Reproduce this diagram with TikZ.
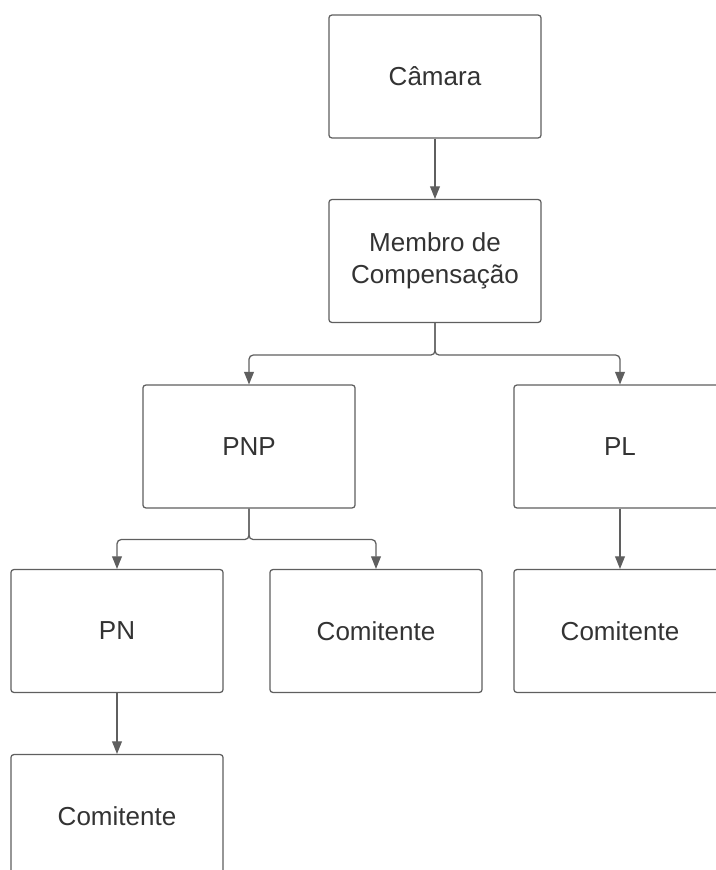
\documentclass[tikz,border=0pt]{standalone}
\usepackage{fontspec}
\setmainfont{Liberation Sans}
\definecolor{EdgeGray}{HTML}{5F5F5F}
\definecolor{InkGray}{HTML}{333333}
\usetikzlibrary{
  arrows.meta,
  positioning
}

\begin{document}
\begin{tikzpicture}[
  x=0.025cm, y=-0.025cm,
  box/.style={
    rectangle, rounded corners=2pt,
    draw=EdgeGray, line width=0.9pt,
    fill=white,
    minimum width=5.3cm, minimum height=3.07cm,
    font=\fontsize{18.5}{22.5}\selectfont,
    align=center, text=InkGray
  },
  link/.style={
    draw=EdgeGray, line width=0.9pt,
    rounded corners=3pt,
    -{Triangle[length=9pt, width=7pt]}
  }
]
  \useasboundingbox (0,0) rectangle (716,870);
  \clip (0,0) rectangle (716,870);

  % Boxes (top to bottom)
  \node[box] (camara) at (435,76.5) {Câmara};
  \node[box] (membro) at (435,261)
    {Membro de\\Compensação};
  \node[box] (pnp) at (249,446.5) {PNP};
  \node[box] (pl) at (620,446.5) {PL};
  \node[box] (pn) at (117,631) {PN};
  \node[box] (comA) at (376,631) {Comitente};
  \node[box] (comB) at (620,631) {Comitente};
  \node[box] (comC) at (117,816) {Comitente};

  % Connectors
  \draw[link] (camara) -- (membro);
  \draw[link] (membro.south) -- ++(0,32) -| (pnp.north);
  \draw[link] (membro.south) -- ++(0,32) -| (pl.north);
  \draw[link] (pnp.south) -- ++(0,31) -| (pn.north);
  \draw[link] (pnp.south) -- ++(0,31) -| (comA.north);
  \draw[link] (pl) -- (comB);
  \draw[link] (pn) -- (comC);
\end{tikzpicture}
\end{document}
